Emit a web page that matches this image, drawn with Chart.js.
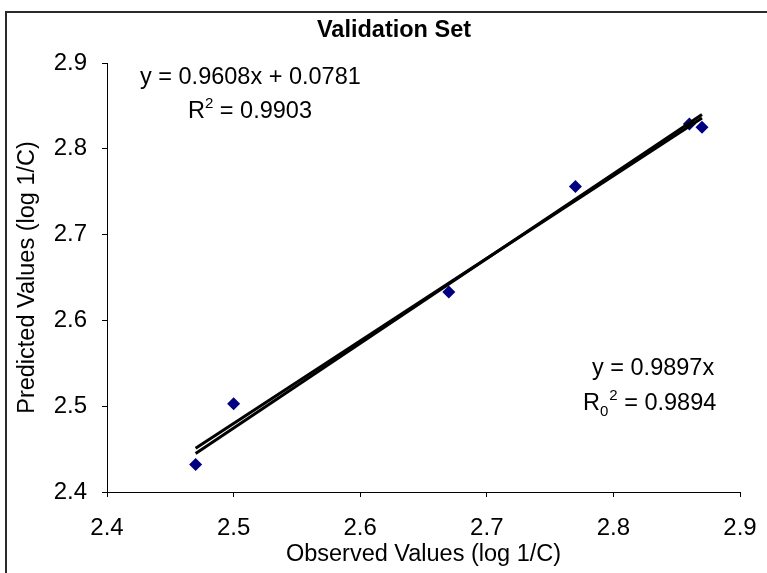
<!DOCTYPE html>
<html>
<head>
<meta charset="utf-8">
<script src="https://cdn.jsdelivr.net/npm/chart.js@4/dist/chart.umd.min.js"></script>
<style>
  html, body { margin: 0; padding: 0; background: #fff; }
  #wrap { position: relative; width: 767px; height: 573px; overflow: hidden; background: #fff; }
  #frame { position: absolute; left: 5px; top: 11px; width: 900px; height: 800px;
           border-left: 2px solid #2a2a2a; border-top: 2px solid #2a2a2a; }
  canvas { position: absolute; left: 0; top: 0; }
</style>
</head>
<body>
<div id="wrap">
  <div id="frame"></div>
  <canvas id="c" width="767" height="573"></canvas>
</div>
<script>
// ---- data ----
const observed  = [2.47, 2.50, 2.67, 2.77, 2.86, 2.87];
const predicted = [2.432, 2.503, 2.633, 2.756, 2.829, 2.825];
// trend line endpoints (x, y)
const trendX        = [2.47, 2.87];
const trendFitY     = [2.451, 2.836];   // y = 0.9608x + 0.0781
const trendOriginY  = [2.445, 2.840];   // y = 0.9897x (through origin)
const xTickLabels = ["2.4", "2.5", "2.6", "2.7", "2.8", "2.9"];
const yTickLabels = ["2.4", "2.5", "2.6", "2.7", "2.8", "2.9"];
const chartTitle = "Validation Set";
const xTitle = "Observed Values (log 1/C)";
const yTitle = "Predicted Values (log 1/C)";
const eqFit = "y = 0.9608x + 0.0781";
const r2Fit = "0.9903";
const eqOrigin = "y = 0.9897x";
const r2Origin = "0.9894";

const FONT = "'Liberation Sans', Arial, sans-serif";
const FS = 23.5;

const annotations = {
  id: 'annotations',
  afterDatasetsDraw(chart) {
    const ctx = chart.ctx;
    ctx.save();
    ctx.fillStyle = '#000';
    // chart title (centred on the whole chart object, as in the reference)
    ctx.font = "bold " + FS + "px " + FONT;
    ctx.textAlign = 'center';
    ctx.textBaseline = 'middle';
    ctx.fillText(chartTitle, 394, 31);
    ctx.textAlign = 'left';
    ctx.textBaseline = 'alphabetic';
    const big = FS + "px " + FONT, small = "15px " + FONT;
    // fit equation
    ctx.font = big;
    ctx.fillText(eqFit, 140, 84);
    // R^2
    let x = 188, y = 118;
    ctx.fillText("R", x, y); x += ctx.measureText("R").width;
    ctx.font = small; ctx.fillText("2", x, y - 10); x += ctx.measureText("2").width;
    ctx.font = big; ctx.fillText(" = " + r2Fit, x, y);
    // origin equation
    ctx.fillText(eqOrigin, 592, 375);
    // R0^2
    x = 583; y = 410;
    ctx.fillText("R", x, y); x += ctx.measureText("R").width;
    ctx.font = small; ctx.fillText("0", x, y + 6);
    const w0 = ctx.measureText("0").width;
    ctx.fillText("2", x + w0 + 1, y - 10);
    x += w0 + 1 + ctx.measureText("2").width;
    ctx.font = big; ctx.fillText(" = " + r2Origin, x, y);
    ctx.restore();
  }
};

const tickVals = (labels) => labels.map(s => ({ value: parseFloat(s) }));

new Chart(document.getElementById('c'), {
  type: 'scatter',
  data: {
    datasets: [
      {
        type: 'line',
        data: trendX.map((v, i) => ({ x: v, y: trendFitY[i] })),
        borderColor: '#000', borderWidth: 3, pointRadius: 0, fill: false, order: 0
      },
      {
        type: 'line',
        data: trendX.map((v, i) => ({ x: v, y: trendOriginY[i] })),
        borderColor: '#000', borderWidth: 3, pointRadius: 0, fill: false, order: 0
      },
      {
        data: observed.map((v, i) => ({ x: v, y: predicted[i] })),
        pointStyle: 'rectRot', pointRadius: 6.5, pointHoverRadius: 6.5,
        backgroundColor: '#000080', borderColor: '#000080', borderWidth: 0, order: 1
      }
    ]
  },
  options: {
    responsive: false,
    devicePixelRatio: 1,
    animation: false,
    layout: { autoPadding: false, padding: { left: 0, right: 27, top: 63, bottom: 0 } },
    plugins: {
      legend: { display: false },
      tooltip: { enabled: false },
      title: { display: false }
    },
    scales: {
      x: {
        type: 'linear', min: 2.4, max: 2.9,
        afterBuildTicks: (s) => { s.ticks = tickVals(xTickLabels); },
        afterFit: (s) => { s.height = 81; s.paddingLeft = 0; s.paddingRight = 0; },
        ticks: {
          color: '#000', font: { family: FONT, size: 24 }, padding: 17,
          maxRotation: 0, autoSkip: false,
          callback: (v, i) => xTickLabels[i]
        },
        grid: { drawOnChartArea: false, drawTicks: true, tickLength: 5, color: '#000', lineWidth: 1 },
        border: { display: true, color: '#000', width: 1 },
        title: {
          display: true, text: xTitle, color: '#000',
          font: { family: FONT, size: FS, lineHeight: 1.2 },
          padding: { top: 0, bottom: 4 }
        }
      },
      y: {
        type: 'linear', min: 2.4, max: 2.9,
        afterBuildTicks: (s) => { s.ticks = tickVals(yTickLabels); },
        afterFit: (s) => { s.width = 107; s.paddingTop = 0; s.paddingBottom = 0; },
        ticks: {
          color: '#000', font: { family: FONT, size: 24 }, padding: 15,
          autoSkip: false,
          callback: (v, i) => yTickLabels[i]
        },
        grid: { drawOnChartArea: false, drawTicks: true, tickLength: 5, color: '#000', lineWidth: 1 },
        border: { display: true, color: '#000', width: 1 },
        title: {
          display: true, text: yTitle, color: '#000',
          font: { family: FONT, size: FS, lineHeight: 1.2 },
          padding: { top: 13, bottom: 0 }
        }
      }
    }
  },
  plugins: [annotations]
});
</script>
</body>
</html>
